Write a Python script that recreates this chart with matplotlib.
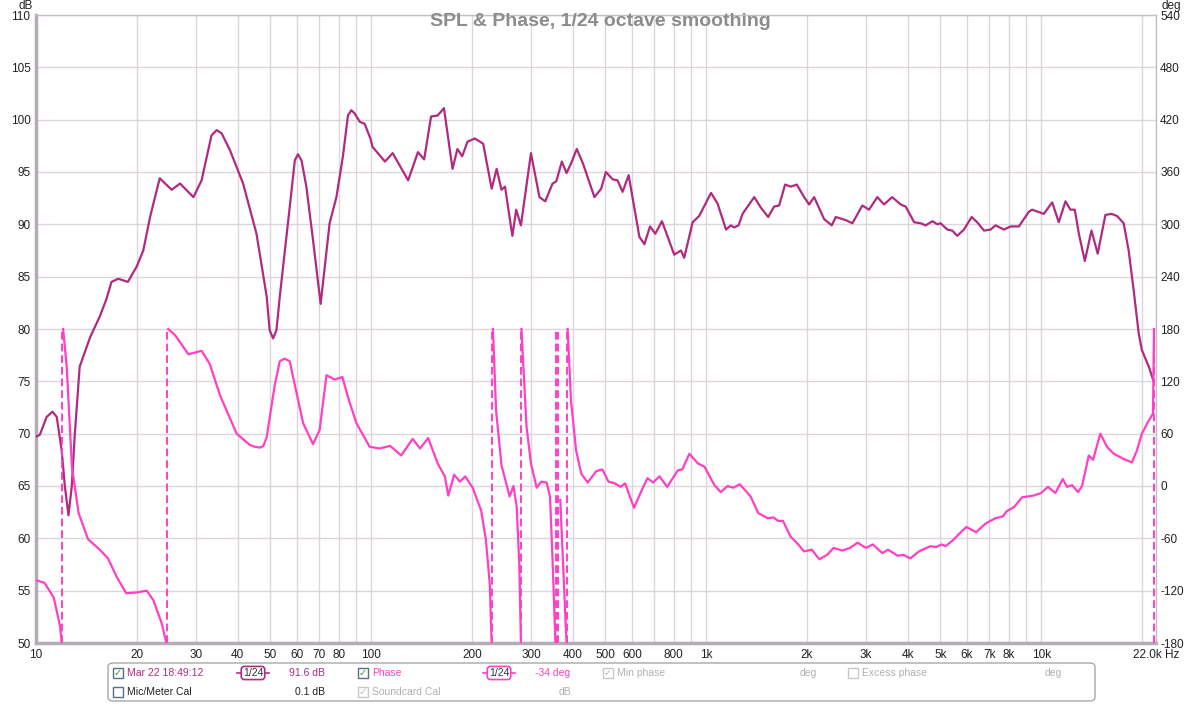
import matplotlib
matplotlib.use("Agg")
import matplotlib.pyplot as plt
import numpy as np
from matplotlib.patches import FancyBboxPatch, Rectangle

plt.rcParams['font.family'] = ['Liberation Sans', 'DejaVu Sans']
plt.rcParams['axes.unicode_minus'] = False

# -----------------------------
# Data
# -----------------------------
spl_freq = [10.0, 10.27, 10.76, 11.2, 11.53, 11.93, 12.2, 12.5, 12.78, 13.06, 13.5, 14.5,
            15.5, 16.2, 16.8, 17.6, 18.8, 20.0, 20.9, 21.9,
            23.4, 25.4, 26.9, 29.5, 31.2, 33.4, 34.6, 35.8, 37.9, 41.5, 45.5, 48.8, 49.8,
            51.0, 52.2, 53.4, 57.2, 59.2,
            60.5, 62.0, 64.1, 67.1, 70.7, 75.2, 78.8, 82.4, 85.3, 87.3, 89.3, 92.5, 95.7,
            99.5, 101, 110,
            116, 129, 138, 144, 151, 158, 165, 175, 181, 187, 194, 204, 216, 229, 237,
            245, 251, 264, 271, 280, 300, 318, 331, 348, 357, 371, 383, 395, 411, 429,
            464, 486, 502, 526, 544, 563, 587, 632, 654, 680, 705, 738, 803, 841, 860,
            911, 953, 1034, 1081, 1146, 1185, 1212, 1249, 1284, 1391, 1456, 1531, 1595,
            1651, 1720, 1788, 1864, 1960, 2029, 2100, 2249, 2370, 2436, 2610, 2731, 2925,
            3062, 3241, 3395, 3590, 3805, 3939, 4175, 4371, 4520, 4734, 4896, 5005, 5245,
            5424, 5614, 5878, 6198, 6440, 6745, 7060, 7307, 7734, 8097, 8572, 9184, 9392,
            10180, 10780, 11280, 11810, 12220, 12590, 12950, 13490, 14120, 14740, 15540,
            16200, 16830, 17620, 18230, 18870, 19530, 19960, 20940, 21650]
spl_db = [69.7, 69.9, 71.6, 72.1, 71.6, 68.4, 64.9, 62.2, 64.9, 70.0, 76.4, 79.2,
          81.2, 82.8, 84.5, 84.8, 84.5, 86.0, 87.5, 90.7,
          94.4, 93.3, 93.9, 92.6, 94.2, 98.5, 99.0, 98.7, 97.1, 93.9, 89.1, 83.1, 79.9,
          79.1, 79.9, 83.1, 91.7, 96.1,
          96.7, 96.1, 93.6, 88.5, 82.4, 90.1, 92.6, 96.5, 100.4, 100.9, 100.6, 99.8, 99.6,
          98.2, 97.4, 96.0,
          96.8, 94.2, 96.9, 96.2, 100.3, 100.4, 101.1, 95.3, 97.2, 96.5, 97.9, 98.2, 97.7,
          93.4, 95.3, 93.3, 93.6, 88.9, 91.4, 89.9, 96.8, 92.6, 92.2, 93.9, 94.1, 96.0,
          94.9, 95.8, 97.2, 95.8, 92.6, 93.4, 95.0, 94.3, 94.2, 93.1, 94.7, 88.8, 88.1,
          89.8, 89.1, 90.3, 87.1, 87.5, 86.8, 90.2, 90.8, 93.0, 92.0, 89.5, 89.9, 89.7,
          89.9, 91.0, 92.6, 91.6, 90.7, 91.7, 91.8, 93.8, 93.6, 93.8, 92.6, 91.9, 92.6,
          90.5, 89.9, 90.7, 90.4, 90.1, 91.8, 91.4, 92.6, 91.9, 92.6, 91.9, 91.7, 90.2,
          90.1, 89.9, 90.3, 90.0, 90.1, 89.5, 89.4, 88.9, 89.5, 90.7, 90.2, 89.4, 89.5,
          89.9, 89.5, 89.8, 89.8, 91.2, 91.4, 91.0, 92.1, 90.2, 92.2, 91.4, 91.4, 89.1,
          86.5, 89.4, 87.2, 90.9, 91.0, 90.8, 90.1, 87.5, 83.7, 79.6, 78.0, 76.4, 75.0]

phase_freq = [10.0, 10.6, 11.3, 11.8, 11.93, 12.05, 12.35, 12.8, 13.4, 14.3, 15.5, 16.4,
              17.4, 18.6, 20.0, 21.4, 22.4, 23.7, 24.5, 24.8, 26.0, 28.5, 31.2, 33.0, 35.4,
              39.7, 43.5, 45.0, 46.6, 47.7, 48.8, 51.6, 53.4, 55.2, 57.2, 58.5, 62.7, 67.1,
              70.2, 73.6, 77.9, 82.1,
              85.3, 90.4, 99, 106, 114, 123, 133, 140, 148, 158, 166, 170, 177, 184, 191,
              201, 213, 220, 226, 229, 231, 236, 245, 250, 259, 266, 272, 277, 280, 281,
              291, 300, 312, 322, 334, 342, 348, 355, 357, 367, 378, 383, 386, 395, 409,
              424, 443, 470, 490, 511, 534, 555, 573, 609, 642, 668, 694, 726, 765, 823,
              849, 891, 944, 989, 1058, 1105, 1159, 1204, 1260, 1357, 1430, 1527, 1587,
              1639, 1695, 1786, 1883, 1959, 2066, 2176, 2294, 2400, 2548, 2687, 2830, 2996,
              3143, 3357, 3490, 3730, 3877, 4067, 4313, 4666, 4854, 5043, 5180, 5457, 5752,
              5980, 6388, 6824, 7287, 7676, 7883, 8307, 8759, 9475, 10000, 10470, 11020,
              11600, 11940, 12360, 12880, 13240, 13860, 14280, 15000, 15710, 16450, 17620,
              18650, 19310, 19960, 20940, 21550, 21700, 21720]
phase_deg = [-108, -111, -128, -161, -180, 180, 137, 22, -31, -61, -73, -83,
             -104, -123, -122, -120, -131, -157, -180, 180, 173, 151, 155, 140, 104,
             60, 47, 45, 44, 46, 56, 116, 143, 146, 143, 125, 72, 48,
             64, 127, 122, 125,
             102, 72, 45, 43, 46, 35, 54, 43, 55, 26, 11, -11, 13, 5, 11,
             -2, -28, -61, -112, -180, 180, 87, 24, 11, -12, 0, -24, -92, -180, 180,
             68, 26, -2, 5, 4, -12, -85, -180, 180, -16, -131, -180, 180, 98, 41,
             14, 4, 17, 19, 5, 3, -1, 3, -25, -5, 9, 4, 11, -1, 18,
             19, 37, 26, 22, 1, -7, 0, -2, 2, -12, -31, -37, -36,
             -40, -40, -58, -67, -75, -73, -84, -79, -71, -74, -71, -65, -71,
             -67, -77, -73, -80, -79, -83, -75, -69, -70, -67, -69, -62, -53,
             -47, -53, -43, -37, -35, -29, -24, -13, -11, -8, -1, -8,
             8, -1, 1, -7, 0, 35, 30, 60, 45, 37, 31,
             27, 41, 60, 75, 83, 180, -180]

xtick_vals = [10, 20, 30, 40, 50, 60, 70, 80, 100, 200, 300, 400, 500, 600, 800,
              1000, 2000, 3000, 4000, 5000, 6000, 7000, 8000, 10000, 22000]
xtick_labels = ['10', '20', '30', '40', '50', '60', '70', '80', '100', '200', '300',
                '400', '500', '600', '800', '1k', '2k', '3k', '4k', '5k', '6k', '7k',
                '8k', '10k', '22.0k Hz']
db_ticks = np.arange(50, 111, 5)
deg_ticks = np.arange(-180, 541, 60)

SPL_COLOR = '#b02a80'
PHASE_COLOR = '#ff3fc4'
GRID_COLOR = '#dcd6dc'
TEXT = '#222222'

# -----------------------------
# Figure / axes
# -----------------------------
W, H = 1200, 705
fig = plt.figure(figsize=(W / 100, H / 100), dpi=100, facecolor='white')
ax = fig.add_axes([36 / W, 1 - 643 / H, (1156 - 36) / W, (643 - 15) / H])
ax.set_xscale('log')
ax.set_xlim(10, 22000)
ax.set_ylim(50, 110)

grid_minor = [m * 10 ** e for e in range(1, 5) for m in range(1, 10)
              if 10 < m * 10 ** e < 22000 and m * 10 ** e not in xtick_vals]
ax.set_xticks(xtick_vals)
ax.set_xticklabels(xtick_labels)
ax.set_xticks(grid_minor, minor=True)
ax.set_xticklabels([], minor=True)
ax.set_yticks(db_ticks)
ax.grid(True, which='both', color=GRID_COLOR, lw=1.0)
ax.set_axisbelow(True)
ax.tick_params(which='both', length=0, labelsize=8.5, colors=TEXT, pad=4)

for s in ('left', 'bottom'):
    ax.spines[s].set_color('#b4acb4')
    ax.spines[s].set_linewidth(2.5)
for s in ('top', 'right'):
    ax.spines[s].set_color('#c4bec4')
    ax.spines[s].set_linewidth(1.0)

ax2 = ax.twinx()
ax2.set_ylim(-180, 540)
ax2.set_yticks(deg_ticks)
ax2.tick_params(length=0, labelsize=8.5, colors=TEXT, pad=3)
for s in ax2.spines.values():
    s.set_visible(False)

# SPL curve
ax.plot(spl_freq, spl_db, color=SPL_COLOR, lw=1.6, zorder=4, solid_joinstyle='round')

# Phase curve, broken at wraps with dashed connectors
pf = np.array(phase_freq, dtype=float)
pdg = np.array(phase_deg, dtype=float)
jumps = np.where(np.abs(np.diff(pdg)) > 180)[0]
for j in jumps:
    fw = np.sqrt(pf[j] * pf[j + 1])
    ax2.vlines(fw, -180, 180, colors=PHASE_COLOR, lw=1.4, linestyles=(0, (4, 2)), zorder=3)
pf_plot = np.insert(pf, jumps + 1, np.nan)
pd_plot = np.insert(pdg, jumps + 1, np.nan)
ax2.plot(pf_plot, pd_plot, color=PHASE_COLOR, lw=1.6, zorder=3, solid_joinstyle='round')

# Title and unit labels
fig.text(600 / W, 1 - 22 / H, 'SPL & Phase, 1/24 octave smoothing', ha='center',
         va='center', fontsize=14, fontweight='bold', color='#8c8c8c')
fig.text(33 / W, 1 - 6 / H, 'dB', ha='right', va='center', fontsize=8.5, color=TEXT)
fig.text(1161 / W, 1 - 6 / H, 'deg', ha='left', va='center', fontsize=8.5, color=TEXT)

# -----------------------------
# Legend panel
# -----------------------------
def fx(x):
    return x / W

def fy(y):
    return 1 - y / H

panel = FancyBboxPatch((fx(108), fy(701)), fx(1095) - fx(108), fy(663) - fy(701),
                       boxstyle='round,pad=0,rounding_size=0.005', transform=fig.transFigure,
                       facecolor='white', edgecolor='#a8a8a8', lw=1.0)
fig.patches.append(panel)


def checkbox(x, y, checked, enabled=True):
    edge = '#5a6e8a' if enabled else '#c8c8c8'
    r = Rectangle((fx(x - 5), fy(y + 5)), 10 / W, 10 / H, transform=fig.transFigure,
                  facecolor='white', edgecolor=edge, lw=1.0)
    fig.patches.append(r)
    if checked:
        fig.text(fx(x), fy(y), '\u2713', ha='center', va='center', fontsize=7,
                 color='#2a9a2a' if enabled else '#b8b8b8', family=['DejaVu Sans'])


def smooth_icon(x, y, color):
    fig.lines.append(plt.Line2D([fx(x - 16), fx(x + 16)], [fy(y), fy(y)],
                                transform=fig.transFigure, color=color, lw=1.2))
    fig.text(fx(x), fy(y), '1/24', ha='center', va='center', fontsize=7.5, color='#333333',
             bbox=dict(boxstyle='round,pad=0.15,rounding_size=0.3', fc='white', ec=color, lw=1.2))


r1, r2 = 673, 692
checkbox(118, r1, True)
fig.text(fx(127), fy(r1), 'Mar 22 18:49:12', ha='left', va='center', fontsize=7.5, color=SPL_COLOR)
smooth_icon(253, r1, SPL_COLOR)
fig.text(fx(325), fy(r1), '91.6 dB', ha='right', va='center', fontsize=7.5, color=SPL_COLOR)
checkbox(363, r1, True)
fig.text(fx(372), fy(r1), 'Phase', ha='left', va='center', fontsize=7.5, color=PHASE_COLOR)
smooth_icon(499, r1, PHASE_COLOR)
fig.text(fx(570), fy(r1), '-34 deg', ha='right', va='center', fontsize=7.5, color=PHASE_COLOR)
checkbox(608, r1, True, enabled=False)
fig.text(fx(617), fy(r1), 'Min phase', ha='left', va='center', fontsize=7.5, color='#b0b0b0')
fig.text(fx(808), fy(r1), 'deg', ha='center', va='center', fontsize=7.5, color='#b0b0b0')
checkbox(853, r1, False, enabled=False)
fig.text(fx(862), fy(r1), 'Excess phase', ha='left', va='center', fontsize=7.5, color='#b0b0b0')
fig.text(fx(1053), fy(r1), 'deg', ha='center', va='center', fontsize=7.5, color='#b0b0b0')

checkbox(118, r2, False)
fig.text(fx(127), fy(r2), 'Mic/Meter Cal', ha='left', va='center', fontsize=7.5, color=TEXT)
fig.text(fx(325), fy(r2), '0.1 dB', ha='right', va='center', fontsize=7.5, color=TEXT)
checkbox(363, r2, True, enabled=False)
fig.text(fx(372), fy(r2), 'Soundcard Cal', ha='left', va='center', fontsize=7.5, color='#b0b0b0')
fig.text(fx(565), fy(r2), 'dB', ha='center', va='center', fontsize=7.5, color='#b0b0b0')

fig.savefig('out.png', dpi=100, facecolor='white')
